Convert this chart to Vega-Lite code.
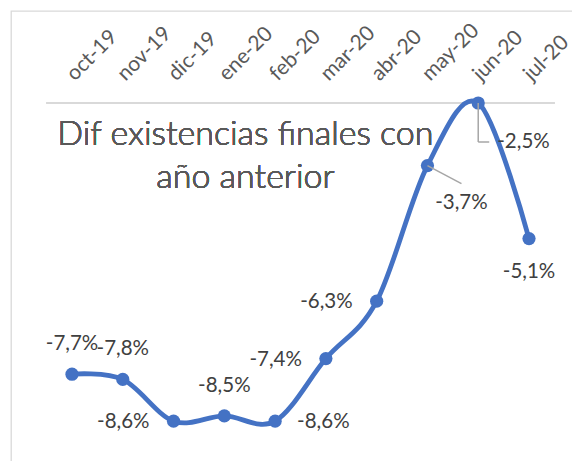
{
  "$schema": "https://vega.github.io/schema/vega-lite/v6.json",
  "width": 570,
  "height": 459,
  "autosize": "none",
  "padding": {"left": 11, "top": 11, "right": -9, "bottom": -9},
  "background": "white",
  "config": {
    "view": {"stroke": "#d9d9d9", "strokeWidth": 1.3},
    "font": "Lato",
    "locale": {"number": {"decimal": ",", "thousands": ".", "grouping": [3], "currency": ["", " €"], "minus": "-"}}
  },
  "data": {
    "values": [
      {"mes": "oct-19", "valor": -0.077},
      {"mes": "nov-19", "valor": -0.078},
      {"mes": "dic-19", "valor": -0.086},
      {"mes": "ene-20", "valor": -0.085},
      {"mes": "feb-20", "valor": -0.086},
      {"mes": "mar-20", "valor": -0.074},
      {"mes": "abr-20", "valor": -0.063},
      {"mes": "may-20", "valor": -0.037},
      {"mes": "jun-20", "valor": -0.025},
      {"mes": "jul-20", "valor": -0.051}
    ]
  },
  "encoding": {
    "x": {
      "field": "mes", "type": "ordinal", "sort": null,
      "scale": {"type": "point", "padding": 0, "range": [61, 518], "domain": ["oct-19", "nov-19", "dic-19", "ene-20", "feb-20", "mar-20", "abr-20", "may-20", "jun-20", "jul-20"]},
      "axis": {
        "orient": "top", "offset": -92, "domain": false, "ticks": false, "tickSize": 0,
        "labelAngle": -45, "labelAlign": "left", "labelBaseline": "middle", "labelPadding": 26, "labelOffset": -2,
        "labelFont": "Lato", "labelFontSize": 21, "labelColor": "#595959",
        "title": null, "grid": false, "labelOverlap": false, "labelBound": false
      }
    },
    "y": {
      "field": "valor", "type": "quantitative",
      "scale": {"domain": [-0.09, -0.025], "range": [431, 92], "zero": false, "nice": false},
      "axis": null
    }
  },
  "layer": [
    {
      "mark": {"type": "rule", "color": "#d9d9d9", "strokeWidth": 1.3, "xOffset": -25.4, "x2Offset": 25.4},
      "encoding": {"x": {"datum": "oct-19"}, "x2": {"datum": "jul-20"}, "y": {"datum": -0.025}}
    },
    {
      "mark": {"type": "text", "text": ["Dif existencias finales con", "año anterior"], "font": "Lato", "fontSize": 34, "fontWeight": 300, "color": "#595959", "align": "center", "baseline": "alphabetic", "lineHeight": 43, "dx": 21},
      "encoding": {"x": {"datum": "ene-20"}, "y": {"datum": -0.03306}}
    },
    {
      "mark": {"type": "line", "interpolate": "cardinal", "color": "#4472C4", "strokeWidth": 4.8}
    },
    {
      "mark": {"type": "point", "filled": true, "size": 175, "color": "#4472C4", "opacity": 1}
    },
    {
      "transform": [{"filter": {"field": "mes", "equal": "may-20"}}],
      "mark": {"type": "rule", "color": "#a6a6a6", "strokeWidth": 1.5, "x2Offset": 34, "y2Offset": 18},
      "encoding": {"x2": {"field": "mes"}, "y2": {"field": "valor"}}
    },
    {
      "transform": [{"filter": {"field": "mes", "equal": "jun-20"}}],
      "mark": {"type": "rule", "color": "#a6a6a6", "strokeWidth": 1.5, "y2Offset": 39},
      "encoding": {"y2": {"field": "valor"}}
    },
    {
      "transform": [{"filter": {"field": "mes", "equal": "jun-20"}}],
      "mark": {"type": "rule", "color": "#a6a6a6", "strokeWidth": 1.5, "yOffset": 39, "x2Offset": 11},
      "encoding": {"x2": {"field": "mes"}}
    },
    {
      "transform": [{"filter": {"field": "mes", "oneOf": ["oct-19", "nov-19", "ene-20"]}}],
      "mark": {"type": "text", "font": "Lato", "fontSize": 20.5, "color": "#404040", "align": "center", "baseline": "middle", "dy": -30},
      "encoding": {"text": {"field": "valor", "type": "quantitative", "format": ".1%"}}
    },
    {
      "transform": [{"filter": {"field": "mes", "oneOf": ["dic-19", "mar-20", "abr-20"]}}],
      "mark": {"type": "text", "font": "Lato", "fontSize": 20.5, "color": "#404040", "align": "right", "baseline": "middle", "dx": -24, "dy": 1},
      "encoding": {"text": {"field": "valor", "type": "quantitative", "format": ".1%"}}
    },
    {
      "transform": [{"filter": {"field": "mes", "equal": "feb-20"}}],
      "mark": {"type": "text", "font": "Lato", "fontSize": 20.5, "color": "#404040", "align": "left", "baseline": "middle", "dx": 22, "dy": 1},
      "encoding": {"text": {"field": "valor", "type": "quantitative", "format": ".1%"}}
    },
    {
      "transform": [{"filter": {"field": "mes", "equal": "jul-20"}}],
      "mark": {"type": "text", "font": "Lato", "fontSize": 20.5, "color": "#404040", "align": "center", "baseline": "middle", "dy": 33},
      "encoding": {"text": {"field": "valor", "type": "quantitative", "format": ".1%"}}
    },
    {
      "transform": [{"filter": {"field": "mes", "equal": "may-20"}}],
      "mark": {"type": "text", "font": "Lato", "fontSize": 20.5, "color": "#404040", "align": "center", "baseline": "middle", "dx": 34, "dy": 37},
      "encoding": {"text": {"field": "valor", "type": "quantitative", "format": ".1%"}}
    },
    {
      "transform": [{"filter": {"field": "mes", "equal": "jun-20"}}],
      "mark": {"type": "text", "font": "Lato", "fontSize": 20.5, "color": "#404040", "align": "left", "baseline": "middle", "dx": 19, "dy": 39},
      "encoding": {"text": {"field": "valor", "type": "quantitative", "format": ".1%"}}
    }
  ]
}
